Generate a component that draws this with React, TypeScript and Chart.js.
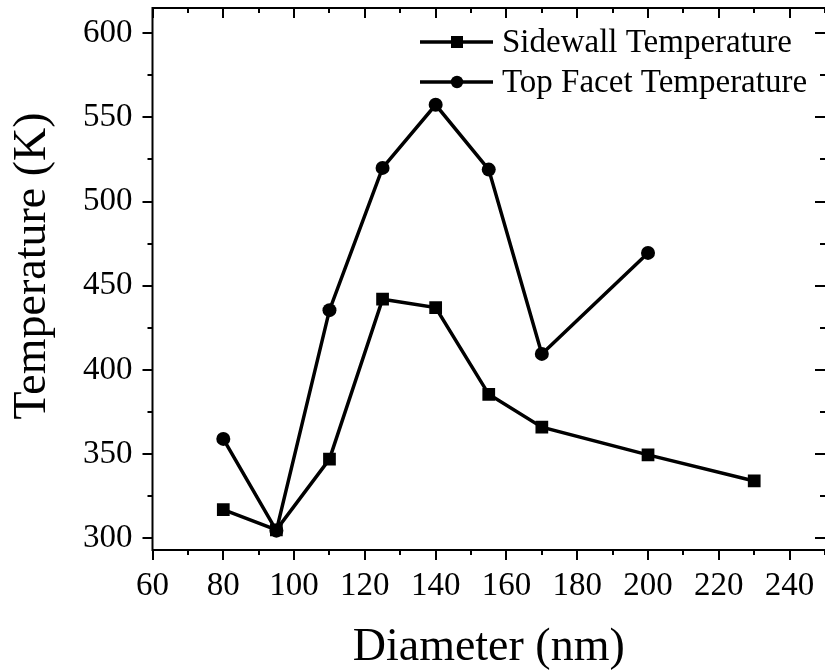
import React, { useEffect, useRef } from 'react';
import { Chart, registerables } from 'chart.js';

Chart.register(...registerables);

// Nanowire diameter (nm) and simulated temperatures (K)
const diameters = [80, 95, 110, 125, 140, 155, 170, 200, 230];
const sidewallTemp = [317, 305, 347, 442, 437, 385.5, 366, 349.5, 334];
const topFacetTemp: (number | null)[] = [359, 304.5, 435.5, 520, 557.5, 519, 409.5, 469.5, null];
const seriesNames = ['Sidewall Temperature', 'Top Facet Temperature'];
const xTitle = 'Diameter (nm)';
const yTitle = 'Temperature (K)';

const FONT = "'Liberation Serif', 'Times New Roman', serif";

const toPoints = (ys: (number | null)[]) =>
  diameters
    .map((x, i) => ({ x, y: ys[i] }))
    .filter((p) => p.y !== null) as { x: number; y: number }[];

const noPadding = (s: any) => {
  s.paddingTop = 0;
  s.paddingBottom = 0;
  s.paddingLeft = 0;
  s.paddingRight = 0;
};

// Frame, inward/outward tick marks, rotated y title and the inset legend
const decorPlugin = {
  id: 'decor',
  afterDraw(chart: any) {
    const { ctx, chartArea: a, scales } = chart;
    const xs = scales.x;
    const ys = scales.y;
    ctx.save();
    ctx.strokeStyle = '#000';
    ctx.lineWidth = 2;
    ctx.lineCap = 'butt';

    // frame
    ctx.beginPath();
    ctx.moveTo(a.left, a.top);
    ctx.lineTo(a.right + 2, a.top);
    ctx.moveTo(a.left, a.top - 1);
    ctx.lineTo(a.left, a.bottom + 1);
    ctx.moveTo(a.left - 1, a.bottom);
    ctx.lineTo(a.right + 2, a.bottom);
    ctx.moveTo(a.right + 1, a.top);
    ctx.lineTo(a.right + 1, a.bottom);
    ctx.stroke();

    // x ticks: outward on bottom, inward on top
    ctx.beginPath();
    for (let v = xs.min; v <= xs.max + 1e-6; v += 10) {
      const px = Math.round(xs.getPixelForValue(v));
      const len = v % 20 === 0 ? 10 : 5;
      ctx.moveTo(px, a.bottom);
      ctx.lineTo(px, a.bottom + len);
      ctx.moveTo(px, a.top);
      ctx.lineTo(px, a.top + len);
    }
    // y ticks: outward on left, inward on right
    for (let v = 300; v <= ys.max + 1e-6; v += 25) {
      const py = Math.round(ys.getPixelForValue(v));
      const len = v % 50 === 0 ? 10 : 5;
      ctx.moveTo(a.left, py);
      ctx.lineTo(a.left - len, py);
      ctx.moveTo(a.right, py);
      ctx.lineTo(a.right - len, py);
    }
    ctx.stroke();

    // y axis title
    ctx.fillStyle = '#000';
    ctx.font = `46px ${FONT}`;
    ctx.textAlign = 'center';
    ctx.textBaseline = 'middle';
    ctx.save();
    ctx.translate(33, 266);
    ctx.rotate(-Math.PI / 2);
    ctx.fillText(yTitle, 0, 0);
    ctx.restore();

    // legend
    const rows = [
      { y: 42, style: 'rect' },
      { y: 82, style: 'circle' },
    ];
    ctx.font = `33px ${FONT}`;
    ctx.textAlign = 'left';
    rows.forEach((r, i) => {
      ctx.lineWidth = 3.5;
      ctx.beginPath();
      ctx.moveTo(420, r.y);
      ctx.lineTo(493, r.y);
      ctx.stroke();
      ctx.beginPath();
      if (r.style === 'rect') ctx.rect(451, r.y - 6, 12, 12);
      else ctx.arc(457, r.y, 6.2, 0, Math.PI * 2);
      ctx.fill();
      ctx.fillText(seriesNames[i], 502, r.y + 1);
    });
    ctx.restore();
  },
};

export default function App() {
  const ref = useRef<HTMLCanvasElement>(null);

  useEffect(() => {
    const chart = new Chart(ref.current!, {
      type: 'line',
      data: {
        datasets: [
          {
            label: seriesNames[0],
            data: toPoints(sidewallTemp),
            borderColor: '#000',
            backgroundColor: '#000',
            borderWidth: 3.5,
            pointStyle: 'rect',
            pointRadius: 9,
            pointBorderWidth: 0,
            pointBackgroundColor: '#000',
          },
          {
            label: seriesNames[1],
            data: toPoints(topFacetTemp),
            borderColor: '#000',
            backgroundColor: '#000',
            borderWidth: 3.5,
            pointStyle: 'circle',
            pointRadius: 7,
            pointBorderWidth: 0,
            pointBackgroundColor: '#000',
          },
        ],
      },
      options: {
        responsive: false,
        animation: false,
        layout: { autoPadding: false, padding: { top: 8, left: 0, right: 0, bottom: 0 } },
        plugins: { legend: { display: false }, tooltip: { enabled: false } },
        scales: {
          x: {
            type: 'linear',
            position: 'bottom',
            min: 60,
            max: 250,
            ticks: {
              stepSize: 20,
              includeBounds: false,
              autoSkip: false,
              maxRotation: 0,
              padding: 17,
              color: '#000',
              font: { family: FONT, size: 33 },
            },
            grid: { display: false, drawTicks: false },
            border: { display: false },
            title: {
              display: true,
              text: xTitle,
              color: '#000',
              font: { family: FONT, size: 46, lineHeight: 1 },
              padding: 0,
            },
            afterFit: (s: any) => {
              s.height = 121;
              noPadding(s);
            },
          },
          y: {
            type: 'linear',
            min: 293,
            max: 615,
            ticks: {
              stepSize: 50,
              includeBounds: false,
              autoSkip: false,
              padding: 20,
              color: '#000',
              font: { family: FONT, size: 33 },
            },
            grid: { display: false, drawTicks: false },
            border: { display: false },
            afterFit: (s: any) => {
              s.width = 152.5;
              noPadding(s);
            },
          },
        },
      },
      plugins: [decorPlugin],
    });
    return () => chart.destroy();
  }, []);

  return (
    <div style={{ position: 'fixed', left: 0, top: 0, width: 825, height: 671, background: '#fff' }}>
      <canvas ref={ref} width={825} height={671} style={{ display: 'block' }} />
    </div>
  );
}
